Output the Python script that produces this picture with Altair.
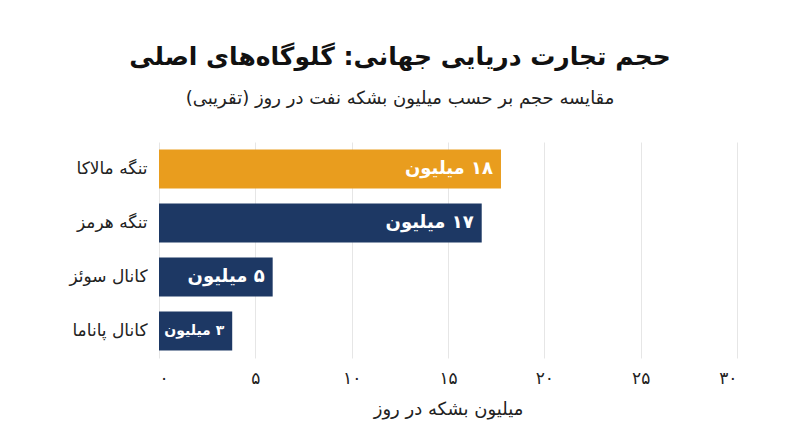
import pandas as pd
import altair as alt

# داده‌ها (خوانده‌شده از تصویر)
routes = ["تنگه مالاکا", "تنگه هرمز", "کانال سوئز", "کانال پاناما"]
volumes = [17.75, 16.75, 5.9, 3.8]
volume_labels = ["۱۸ میلیون", "۱۷ میلیون", "۵ میلیون", "۳ میلیون"]
highlight = ["yes", "no", "no", "no"]
tick_values = [0, 5, 10, 15, 20, 25, 30]
tick_labels = ["۰", "۵", "۱۰", "۱۵", "۲۰", "۲۵", "۳۰"]


def rtl(s):
    # جهت راست به چپ برای متن‌های فارسی در SVG
    return "\u202b" + s + "\u202c"


df = pd.DataFrame(
    {
        "route": routes,
        "volume": volumes,
        "label": [rtl(t) for t in volume_labels],
        "highlight": highlight,
    }
)

FONT = "DejaVu Sans"
tick_expr = "[{}][indexof([{}], datum.value)]".format(
    ",".join("'" + t + "'" for t in tick_labels), ",".join(str(v) for v in tick_values)
)

y_enc = alt.Y(
    "route:N",
    sort=routes,
    title=None,
    scale=alt.Scale(paddingInner=0.28, paddingOuter=0.14),
    axis=alt.Axis(
        domain=False, ticks=False, labelPadding=12, labelFontSize=17,
        labelColor="#222222", labelFont=FONT,
    ),
)

bars = alt.Chart(df).mark_bar().encode(
    x=alt.X(
        "volume:Q",
        title=rtl("میلیون بشکه در روز"),
        scale=alt.Scale(domain=[0, 30], nice=False),
        axis=alt.Axis(
            values=tick_values, labelExpr=tick_expr, domain=False, ticks=False,
            grid=True, gridColor="#e6e6e6", labelPadding=12, labelFontSize=17,
            labelColor="#222222", titleFontSize=18, titleFontWeight="normal",
            titleColor="#222222", titlePadding=14, labelFont=FONT, titleFont=FONT,
        ),
    ),
    y=y_enc,
    color=alt.Color(
        "highlight:N",
        scale=alt.Scale(domain=["yes", "no"], range=["#E99D1E", "#1D3864"]),
        legend=None,
    ),
)

labels = alt.Chart(df).mark_text(
    align="right", baseline="middle", dx=-8, color="white",
    fontWeight="bold", font=FONT,
).encode(
    x="volume:Q",
    y=alt.Y("route:N", sort=routes),
    text="label:N",
    size=alt.condition("datum.volume < 4", alt.value(14), alt.value(18)),
)

chart = (
    alt.layer(bars, labels)
    .properties(
        width=578,
        height=216,
        autosize=alt.AutoSizeParams(type="none"),
        padding={"left": 151, "top": 134, "right": 55, "bottom": 81},
        title=alt.TitleParams(
            text=rtl("حجم تجارت دریایی جهانی: گلوگاه‌های اصلی"),
            subtitle=rtl("مقایسه حجم بر حسب میلیون بشکه نفت در روز (تقریبی)"),
            anchor="middle",
            dx=-48,
            offset=34,
            fontSize=25,
            fontWeight="bold",
            font=FONT,
            color="#111111",
            subtitleFontSize=18,
            subtitleFont=FONT,
            subtitleColor="#222222",
            subtitlePadding=20,
        ),
    )
    .configure(font=FONT)
    .configure_view(strokeWidth=0)
)

chart.save("out.html", embed_options={"renderer": "svg", "actions": False})
